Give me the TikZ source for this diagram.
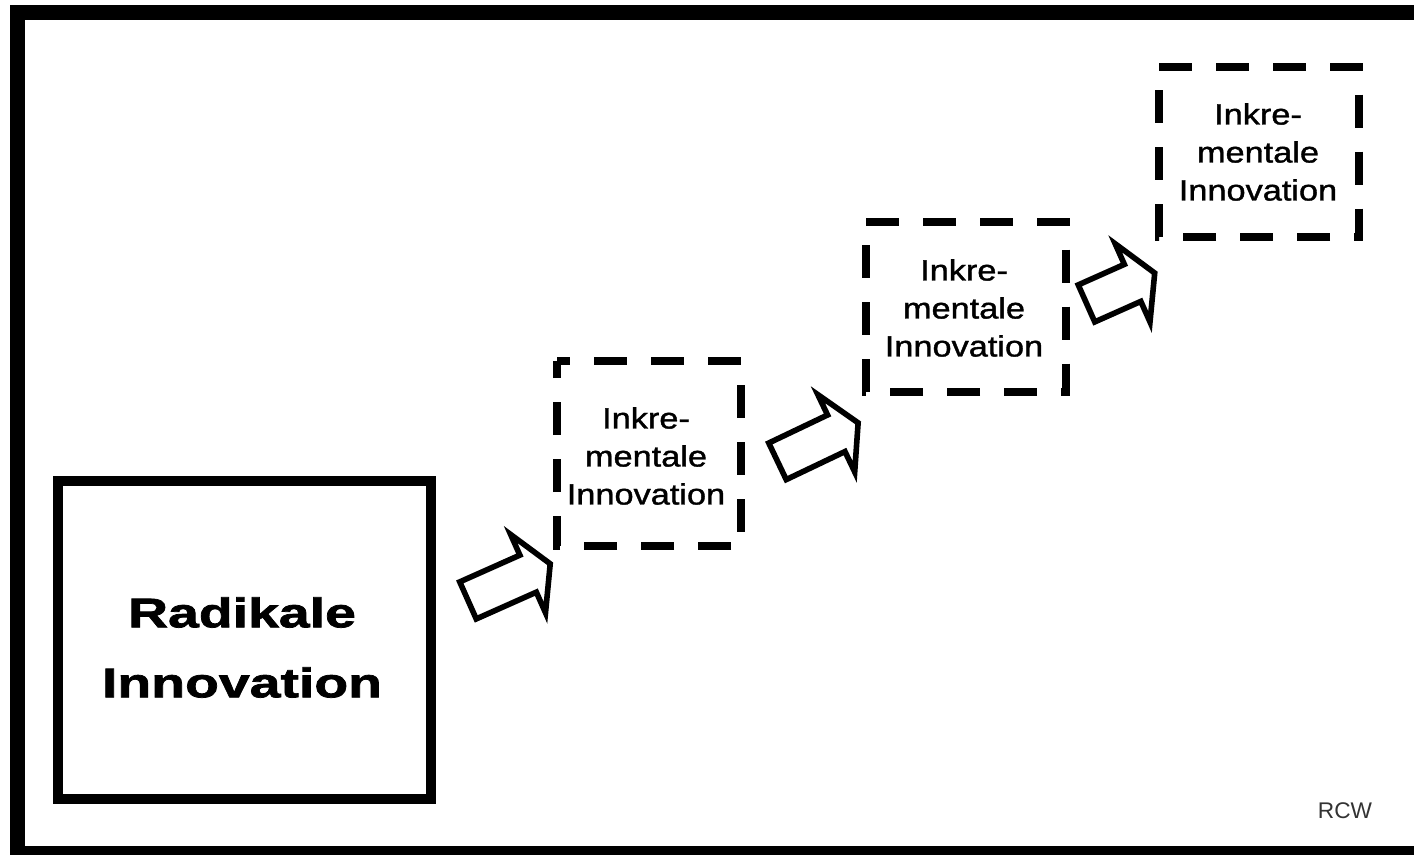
\documentclass[tikz,border=0pt]{standalone}
\usepackage{fontspec}
\setmainfont{Liberation Sans}
\newfontfamily\bigfont{Liberation Sans}[FakeStretch=1.34,FakeBold=1.8]
\newfontfamily\smallfont{Liberation Sans}[FakeStretch=1.17,FakeBold=1.3]
\usetikzlibrary{shapes.arrows}
\begin{document}
\begin{tikzpicture}[x=0.75pt,y=-0.75pt,
  frame/.style={line width=11.25pt},
  radbox/.style={draw, line width=7pt, minimum width=279.75pt, minimum height=238.5pt, inner sep=0pt, outer sep=0pt},
  anchorbox/.style={draw=none, inner sep=0pt, outer sep=0pt},
  dashbox/.style={line width=6pt, dash pattern=on 24.75pt off 18pt},
  bigtext/.style={font=\bigfont\bfseries\fontsize{31pt}{52.5pt}\selectfont, align=center, inner sep=0pt},
  smalltext/.style={font=\smallfont\fontsize{22pt}{28.5pt}\selectfont, align=center, inner sep=0pt},
  signtext/.style={font=\fontsize{17pt}{20pt}\selectfont, text=black!80, inner sep=0pt},
  blockarrow/.style={single arrow, draw, fill=white, line width=4.2pt, inner xsep=0pt, inner ysep=13.1pt,
    single arrow head extend=16.9pt, single arrow tip angle=121, anchor=tail, outer sep=0pt}
]
\useasboundingbox (0,0) rectangle (1414,854);
\clip (0,0) rectangle (1414,854);
\fill[white] (0,0) rectangle (1414,854);
\draw[frame] (17.5,12.5) rectangle (1440,853.5);

% radical innovation
\node[radbox] (rad) at (244.5,640) {};
\node[bigtext] (radtxt) at (242,647.5) {Radikale\\Innovation};

% incremental boxes
\node[anchorbox, minimum width=138pt, minimum height=138.75pt] (b1) at (649,453.5) {};
\node[anchorbox, minimum width=150pt, minimum height=127.5pt] (b2) at (966,306.5) {};
\node[anchorbox, minimum width=150pt, minimum height=127.5pt] (b3) at (1259,151.5) {};
\draw[dashbox, dash phase=15pt] (b1.north west) -- (b1.north east) -- (b1.south east) -- (b1.south west) -- cycle;
\draw[dashbox] (b2.north west) -- (b2.north east) -- (b2.south east) -- (b2.south west) -- cycle;
\draw[dashbox] (b3.north west) -- (b3.north east) -- (b3.south east) -- (b3.south west) -- cycle;
\node[smalltext] (t1) at (646,456) {Inkre-\\mentale\\Innovation};
\node[smalltext] (t2) at (964,308) {Inkre-\\mentale\\Innovation};
\node[smalltext] (t3) at (1258,152) {Inkre-\\mentale\\Innovation};

% block arrows
\node[blockarrow, rotate=24, minimum height=67.5pt] (a1) at (468,600.4) {};
\node[blockarrow, rotate=25.5, minimum height=67pt] (a2) at (777.5,461.3) {};
\node[blockarrow, rotate=24, minimum height=56pt] (a3) at (1086.5,303.4) {};

\node[signtext] (rcw) at (1345,811) {RCW};
\end{tikzpicture}
\end{document}
